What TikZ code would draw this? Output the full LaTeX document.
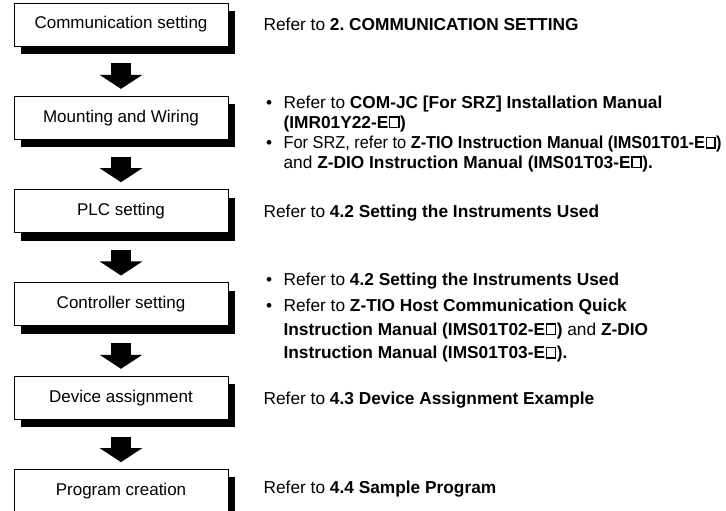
\documentclass[tikz,border=0pt]{standalone}
\usepackage{fontspec}
\setmainfont{Liberation Sans}
\usepackage{graphicx}
\usepackage{tikz}
\usetikzlibrary{arrows.meta, positioning, shadows}
\frenchspacing

\newcommand{\bul}{\makebox[20pt][l]{\hspace{2.5pt}•}}
\newcommand{\ind}{\hspace*{20pt}}
\newcommand{\sqbox}{\hbox{\kern0.5pt\vrule width1.6pt height12pt\vbox to 12pt{\hrule height1.6pt width7.5pt\vfil\hrule height1.6pt}\vrule width1.6pt height12pt\kern0.5pt}}

\begin{document}
\begin{tikzpicture}[node distance=49.5pt,
    stepbox/.style={draw, fill=white, line width=0.8pt, minimum width=214pt, minimum height=43pt, inner sep=0pt,
        font=\fontsize{17pt}{20pt}\selectfont,
        drop shadow={shadow xshift=7pt, shadow yshift=-8pt, fill=black, opacity=1}},
    reftext/.style={inner sep=0pt, align=left, font=\fontsize{17.3pt}{20pt}\selectfont},
    flow/.style={line width=20pt, -{Triangle[length=14pt, width=42pt]}}]
    \clip (0pt,0pt) rectangle (726pt,511pt);

    \node[stepbox] (comm) at (121pt,486.5pt) {Communication setting};
    \node[stepbox, below=of comm] (mount) {Mounting and Wiring};
    \node[stepbox, below=of mount] (plc) {PLC setting};
    \node[stepbox, below=of plc] (ctrl) {Controller setting};
    \node[stepbox, below=of ctrl] (dev) {Device assignment};
    \node[stepbox, below=of dev] (prog) {Program creation};

    \draw[flow] ([yshift=-17pt]comm.south) -- ([yshift=7pt]mount.north);
    \draw[flow] ([yshift=-17pt]mount.south) -- ([yshift=7pt]plc.north);
    \draw[flow] ([yshift=-17pt]plc.south) -- ([yshift=7pt]ctrl.north);
    \draw[flow] ([yshift=-17pt]ctrl.south) -- ([yshift=7pt]dev.north);
    \draw[flow] ([yshift=-17pt]dev.south) -- ([yshift=7pt]prog.north);

    \node[reftext, anchor=west, xshift=35pt] (commref) at (comm.east) {Refer to \textbf{2. COMMUNICATION SETTING}};
    \node[reftext, anchor=north west, font=\fontsize{17.3pt}{19.5pt}\selectfont] (mountref) at ([xshift=35pt]mount.north east)
        {\bul Refer to \textbf{COM-JC [For SRZ] Installation Manual}\\
         \ind\textbf{(IMR01Y22-E\sqbox)}\\[1pt]
         \bul \scalebox{0.945}[1]{For SRZ, refer to \textbf{Z-TIO Instruction Manual (IMS01T01-E\sqbox)}}\\
         \ind and \textbf{Z-DIO Instruction Manual (IMS01T03-E\sqbox).}};
    \node[reftext, anchor=north west, font=\fontsize{17.3pt}{23.5pt}\selectfont] (ctrlref) at ([xshift=35pt, yshift=10pt]ctrl.north east)
        {\bul Refer to \textbf{4.2 Setting the Instruments Used}\\[3pt]
         \bul Refer to \textbf{Z-TIO Host Communication Quick}\\
         \ind\textbf{Instruction Manual (IMS01T02-E\sqbox)} and \textbf{Z-DIO}\\
         \ind\textbf{Instruction Manual (IMS01T03-E\sqbox).}};
    \node[reftext, anchor=west, xshift=35pt, yshift=-2pt] (plcref) at (plc.east) {Refer to \textbf{4.2 Setting the Instruments Used}};
    \node[reftext, anchor=west, xshift=35pt, yshift=-2pt] (devref) at (dev.east) {Refer to \textbf{4.3 Device Assignment Example}};
    \node[reftext, anchor=west, xshift=35pt, yshift=2pt] (progref) at (prog.east) {Refer to \textbf{4.4 Sample Program}};
\end{tikzpicture}
\end{document}
